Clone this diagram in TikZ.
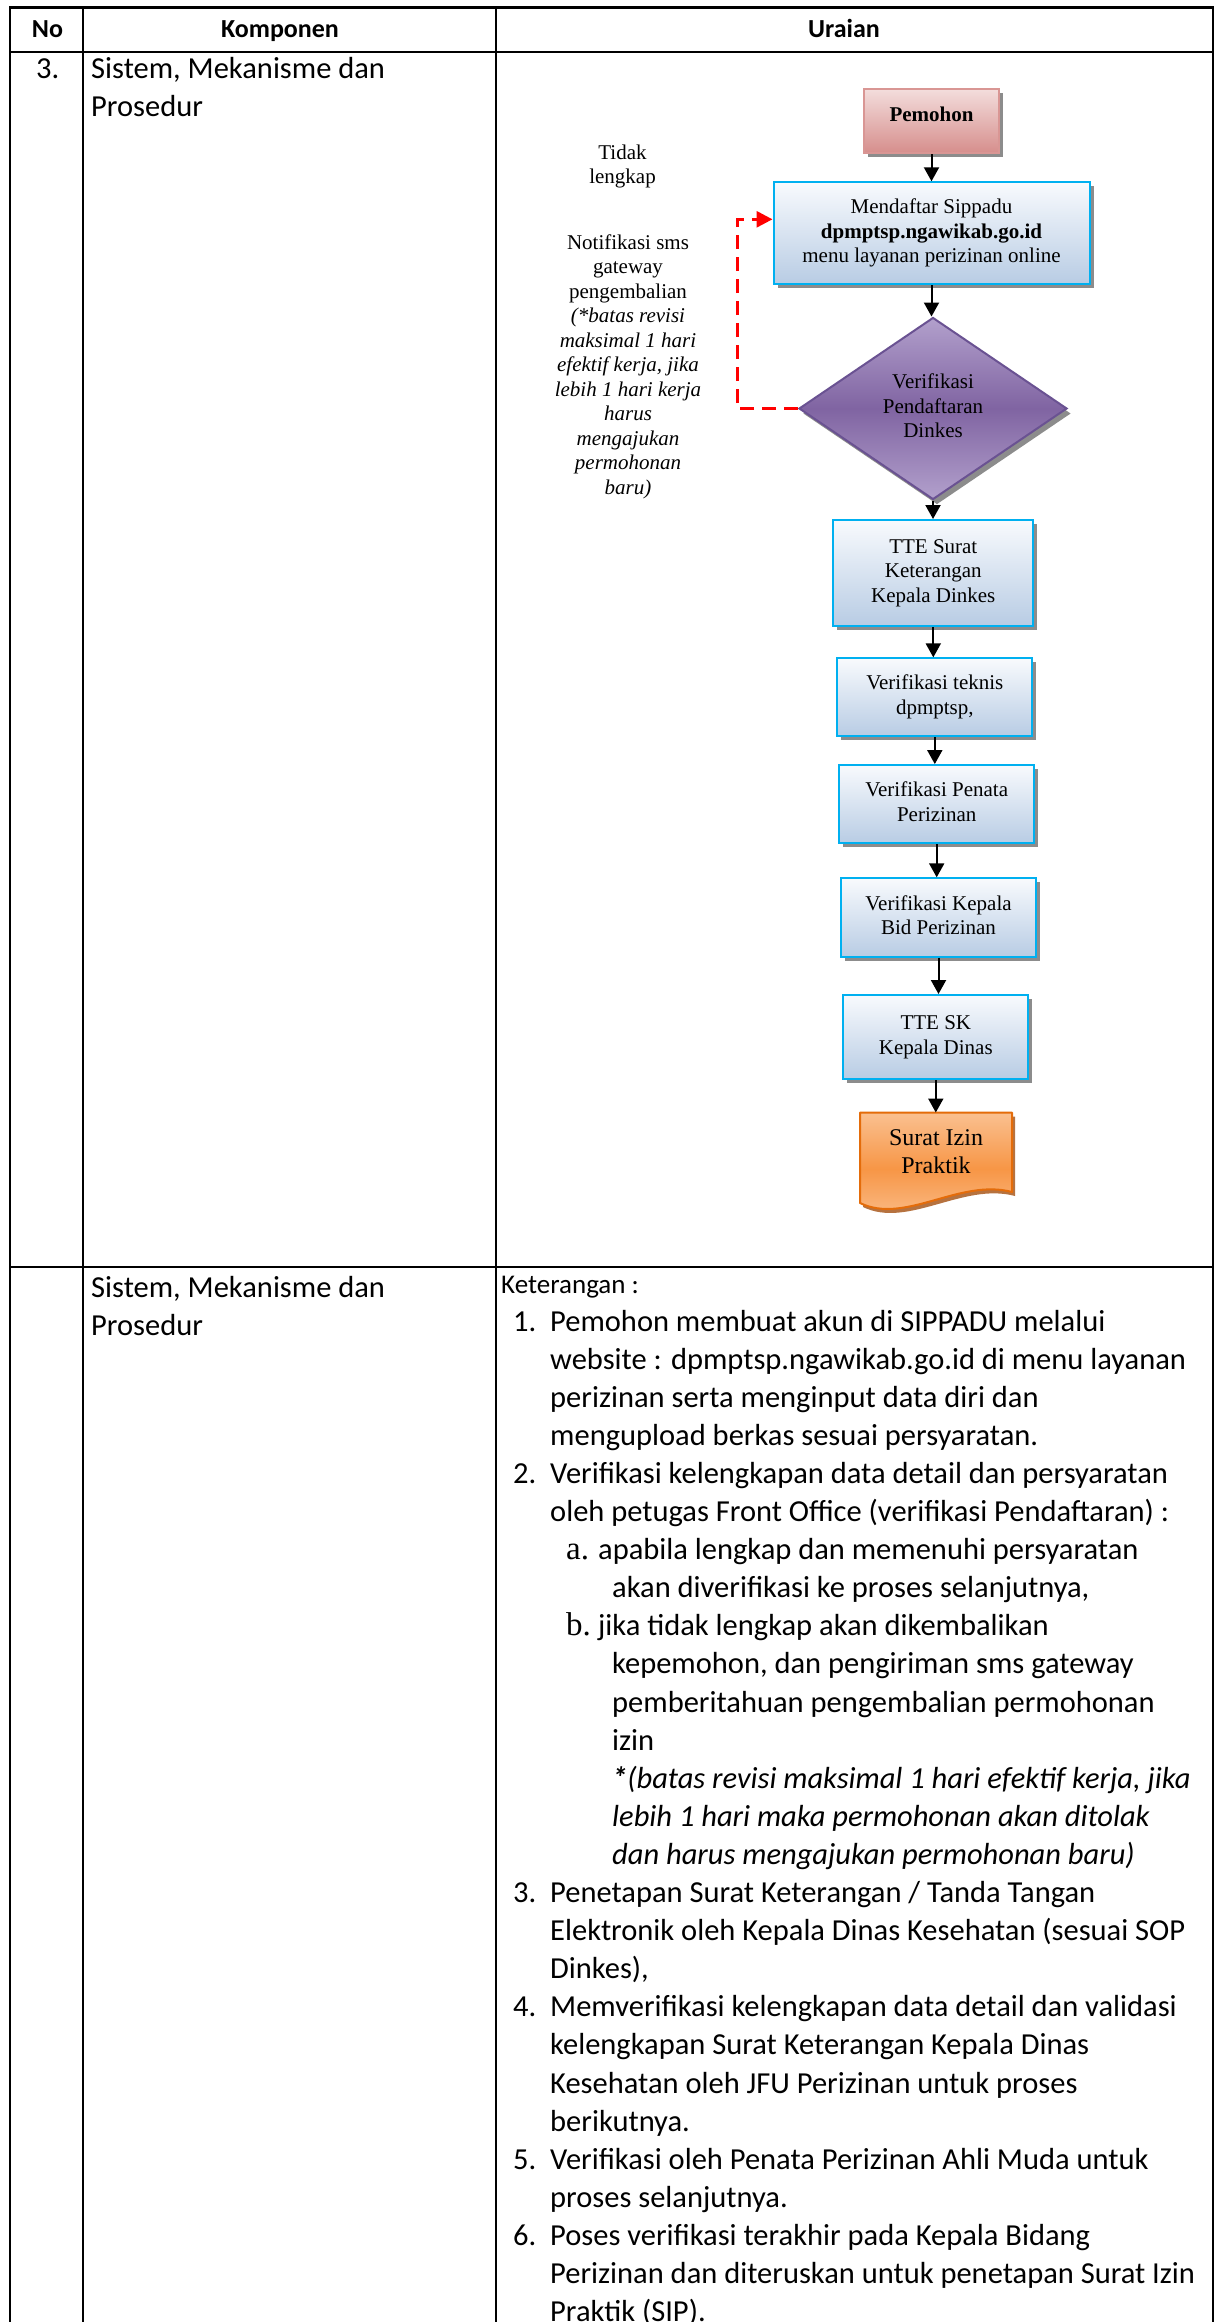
\documentclass[tikz,border=0pt]{standalone}
\usepackage{fontspec}
\setmainfont{Liberation Serif}
\newfontfamily\calfont{Carlito}
\newfontfamily\serfont{Liberation Serif}
\usetikzlibrary{arrows.meta,shapes.geometric,shadows}

\definecolor{cyanline}{RGB}{0,176,240}
\definecolor{boxtop}{RGB}{248,250,253}
\definecolor{boxbot}{RGB}{184,204,228}
\definecolor{pemline}{RGB}{217,150,148}
\definecolor{pemlight}{RGB}{243,221,220}
\definecolor{pemdark}{RGB}{214,142,140}
\definecolor{diaedge}{RGB}{106,82,146}
\definecolor{dialight}{RGB}{178,160,204}
\definecolor{diamid}{RGB}{128,100,162}
\definecolor{orline}{RGB}{228,108,10}
\definecolor{orlight}{RGB}{250,192,144}
\definecolor{ormid}{RGB}{247,150,70}
\definecolor{orshadow}{RGB}{170,90,30}
\definecolor{shadowgrey}{RGB}{120,120,120}
\definecolor{loopred}{RGB}{255,0,0}

\newcommand\flowfont{\serfont\fontsize{21}{24.5}\selectfont}

\tikzset{
  grid/.style={line width=2.2pt, black},
  proc/.style={draw=cyanline, line width=2pt, top color=boxtop, bottom color=boxbot,
    inner sep=0pt, align=center, font=\flowfont,
    drop shadow={shadow xshift=4pt, shadow yshift=-4pt, fill=shadowgrey, opacity=0.85}},
  flow/.style={-{Triangle[length=14pt,width=15pt]}, line width=2pt, black},
  back/.style={-{Triangle[length=16pt,width=16pt]}, line width=3pt, loopred,
    dash pattern=on 14pt off 8pt},
  note/.style={align=center, inner sep=0pt, font=\flowfont},
  head/.style={anchor=base, inner sep=0pt, font=\calfont\bfseries\fontsize{26}{31}\selectfont},
  cell/.style={anchor=base west, inner sep=0pt, font=\calfont\fontsize{30.5}{38}\selectfont},
  small/.style={anchor=base west, inner sep=0pt, font=\calfont\fontsize{27}{32}\selectfont},
  subm/.style={anchor=base west, inner sep=0pt, font=\serfont\fontsize{33}{38}\selectfont},
}

\begin{document}
\begin{tikzpicture}[x=1pt,y=-1pt]
\useasboundingbox (0,0) rectangle (1223,2322);
\fill[white] (0,0) rectangle (1223,2322);

% table grid
\draw[grid] (10,2340) -- (10,7.5) -- (1212.7,7.5) -- (1212.7,2340);
\draw[grid] (10,52) -- (1212.7,52);
\draw[grid] (10,1267) -- (1212.7,1267);
\draw[grid] (82.7,7.5) -- (82.7,2340);
\draw[grid] (496,7.5) -- (496,2340);

% header
\node[head] (hno) at (47.5,37) {No};
\node[head] (hkomp) at (280,37) {Komponen};
\node[head] (hur) at (844,37) {Uraian};

% first row
\node[cell] (no3) at (36,78) {3.};
\node[cell] (k1a) at (91,78) {Sistem, Mekanisme dan};
\node[cell] (k1b) at (91,116) {Prosedur};

% second row
\node[cell] (k2a) at (91,1297) {Sistem, Mekanisme dan};
\node[cell] (k2b) at (91,1335) {Prosedur};

% flowchart
\node[proc, draw=pemline, line width=2pt, top color=pemlight, bottom color=pemdark,
      minimum width=135pt, minimum height=64pt] (pem) at (931.5,121)
      {\smash{\textbf{Pemohon}}};
\node[proc, minimum width=316pt, minimum height=102pt] (daftar) at (931.5,233.3)
      {\strut Mendaftar Sippadu\\\textbf{dpmptsp.ngawikab.go.id}\\menu layanan perizinan online\strut};
\node[diamond, draw=diaedge, line width=2pt, top color=dialight, bottom color=dialight, middle color=diamid,
      minimum width=268pt, minimum height=182pt, inner sep=0pt, align=center, font=\flowfont,
      drop shadow={shadow xshift=4pt, shadow yshift=-5pt, fill=shadowgrey, opacity=0.85}] (dia) at (933,408.5)
      {\strut Verifikasi\\Pendaftaran\\Dinkes\strut};
\node[proc, minimum width=200pt, minimum height=106pt] (tte) at (933.3,573)
      {\strut TTE Surat\\Keterangan\\Kepala Dinkes\strut};
\node[proc, minimum width=195pt, minimum height=77.7pt] (teknis) at (934.8,697.2)
      {\strut Verifikasi teknis\\dpmptsp,\strut};
\node[proc, minimum width=194.7pt, minimum height=78.3pt] (penata) at (936.7,804.2)
      {\strut Verifikasi Penata\\Perizinan\strut};
\node[proc, minimum width=195pt, minimum height=78.4pt] (kabid) at (938.5,917.5)
      {\strut Verifikasi Kepala\\Bid Perizinan\strut};
\node[proc, minimum width=185pt, minimum height=84pt] (ttesk) at (935.8,1037)
      {\strut TTE SK\\Kepala Dinas\strut};

% output document
\fill[orshadow, opacity=0.85] (863,1116.7) -- (1015,1116.7) -- (1015,1196)
   .. controls (963,1182) and (908,1229) .. (863,1207) -- cycle;
\shade[top color=orlight, bottom color=orlight, middle color=ormid]
   (860,1112.7) -- (1012,1112.7) -- (1012,1192)
   .. controls (960,1178) and (905,1225) .. (860,1203) -- cycle;
\draw[orline, line width=2pt, line join=round]
   (860,1112.7) -- (1012,1112.7) -- (1012,1192)
   .. controls (960,1178) and (905,1225) .. (860,1203) -- cycle;
\node[inner sep=0pt, align=center, minimum width=152pt, minimum height=82.6pt,
      font=\serfont\fontsize{24}{28}\selectfont] (sip) at (936,1154)
      {\strut Surat Izin\\Praktik\strut};

% connectors
\draw[flow] (pem.south) -- (pem.south |- daftar.north);
\draw[flow] (daftar.south) -- (daftar.south |- dia.north);
\draw[flow] (dia.south) -- (dia.south |- tte.north);
\draw[flow] (tte.south) -- (tte.south |- teknis.north);
\draw[flow] (teknis.south) -- (teknis.south |- penata.north);
\draw[flow] (penata.south) -- (penata.south |- kabid.north);
\draw[flow] (kabid.south) -- (kabid.south |- ttesk.north);
\draw[flow] (ttesk.south) -- (ttesk.south |- sip.north);
\draw[back] (dia.west) -- ++(-60.5,0) |- ([yshift=14pt]daftar.west);

% side notes
\node[note] (tidak) at (622.5,166.5) {\strut Tidak\\lengkap\strut};
\node[note] (notif) at (628,366.8)
  {\strut Notifikasi sms\\gateway\\pengembalian\\\textit{(*batas revisi}\\\textit{maksimal 1 hari}\\
   \textit{efektif kerja, jika}\\\textit{lebih 1 hari kerja}\\\textit{harus}\\\textit{mengajukan}\\
   \textit{permohonan}\\\textit{baru)}\strut};

% explanation
\node[small] (ket) at (501,1293) {Keterangan :};
\node[cell] (n1) at (513,1331) {1.};
\node[cell] (l0) at (550,1331) {Pemohon membuat akun di SIPPADU melalui};
\node[cell] (l1) at (550,1331+38.1*1) {website : dpmptsp.ngawikab.go.id di menu layanan};
\node[cell] (l2) at (550,1331+38.1*2) {perizinan serta menginput data diri dan};
\node[cell] (l3) at (550,1331+38.1*3) {mengupload berkas sesuai persyaratan.};
\node[cell] (n2) at (513,1331+38.1*4) {2.};
\node[cell] (l4) at (550,1331+38.1*4) {Verifikasi kelengkapan data detail dan persyaratan};
\node[cell] (l5) at (550,1331+38.1*5) {oleh petugas Front Office (verifikasi Pendaftaran) :};
\node[subm] (ma) at (566,1331+38.1*6) {a.};
\node[cell] (l6) at (598,1331+38.1*6) {apabila lengkap dan memenuhi persyaratan};
\node[cell] (l7) at (612,1331+38.1*7) {akan diverifikasi ke proses selanjutnya,};
\node[subm] (mb) at (566,1331+38.1*8) {b.};
\node[cell] (l8) at (598,1331+38.1*8) {jika tidak lengkap akan dikembalikan};
\node[cell] (l9) at (612,1331+38.1*9) {kepemohon, dan pengiriman sms gateway};
\node[cell] (l10) at (612,1331+38.1*10) {pemberitahuan pengembalian permohonan};
\node[cell] (l11) at (612,1331+38.1*11) {izin};
\node[cell] (l12) at (612,1331+38.1*12) {\textit{\textbf{*}(batas revisi maksimal 1 hari efektif kerja, jika}};
\node[cell] (l13) at (612,1331+38.1*13) {\textit{lebih 1 hari maka permohonan akan ditolak}};
\node[cell] (l14) at (612,1331+38.1*14) {\textit{dan harus mengajukan permohonan baru)}};
\node[cell] (n3) at (513,1331+38.1*15) {3.};
\node[cell] (l15) at (550,1331+38.1*15) {Penetapan Surat Keterangan / Tanda Tangan};
\node[cell] (l16) at (550,1331+38.1*16) {Elektronik oleh Kepala Dinas Kesehatan (sesuai SOP};
\node[cell] (l17) at (550,1331+38.1*17) {Dinkes),};
\node[cell] (n4) at (513,1331+38.1*18) {4.};
\node[cell] (l18) at (550,1331+38.1*18) {Memverifikasi kelengkapan data detail dan validasi};
\node[cell] (l19) at (550,1331+38.1*19) {kelengkapan Surat Keterangan Kepala Dinas};
\node[cell] (l20) at (550,1331+38.1*20) {Kesehatan oleh JFU Perizinan untuk proses};
\node[cell] (l21) at (550,1331+38.1*21) {berikutnya.};
\node[cell] (n5) at (513,1331+38.1*22) {5.};
\node[cell] (l22) at (550,1331+38.1*22) {Verifikasi oleh Penata Perizinan Ahli Muda untuk};
\node[cell] (l23) at (550,1331+38.1*23) {proses selanjutnya.};
\node[cell] (n6) at (513,1331+38.1*24) {6.};
\node[cell] (l24) at (550,1331+38.1*24) {Poses verifikasi terakhir pada Kepala Bidang};
\node[cell] (l25) at (550,1331+38.1*25) {Perizinan dan diteruskan untuk penetapan Surat Izin};
\node[cell] (l26) at (550,1331+38.1*26) {Praktik (SIP).};
\end{tikzpicture}
\end{document}
